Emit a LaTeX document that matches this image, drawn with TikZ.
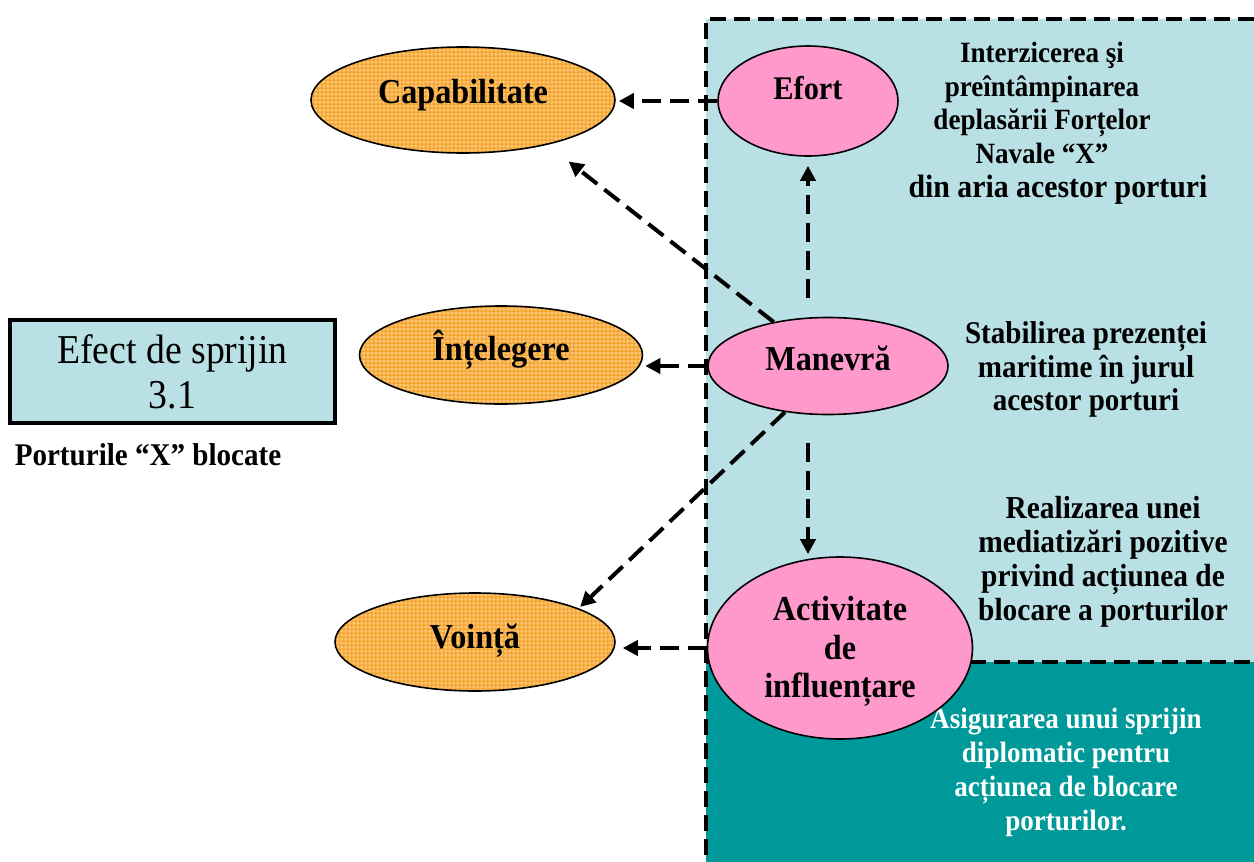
\documentclass[tikz,border=0pt]{standalone}
\usepackage{fontspec}
\setmainfont{Liberation Serif}[FakeStretch=0.92]
\usetikzlibrary{arrows.meta,patterns.meta,shapes.geometric,calc}
\definecolor{lb}{RGB}{185,224,228}
\definecolor{tealc}{RGB}{0,153,153}
\definecolor{pinkc}{RGB}{255,153,204}
\definecolor{orbg}{RGB}{252,198,115}
\definecolor{orgrid}{RGB}{242,158,35}
\tikzdeclarepattern{
  name=finegrid,
  type=uncolored,
  bounding box={(0pt,0pt) and (2.2pt,2.2pt)},
  tile size={(2.2pt,2.2pt)},
  code={
    \pgfsetlinewidth{0.6pt}
    \pgfpathmoveto{\pgfpoint{0pt}{1.1pt}}\pgfpathlineto{\pgfpoint{2.2pt}{1.1pt}}
    \pgfpathmoveto{\pgfpoint{1.1pt}{0pt}}\pgfpathlineto{\pgfpoint{1.1pt}{2.2pt}}
    \pgfusepath{stroke}
  }
}
\tikzset{
  oval/.style={ellipse, draw, line width=0.8pt, inner sep=0pt,
    font=\bfseries\fontsize{17.5}{19.25}\selectfont},
  orangeoval/.style={oval, preaction={fill=orbg}, pattern=finegrid, pattern color=orgrid},
  pinkoval/.style={oval, fill=pinkc},
  arr/.style={line width=2pt, dash pattern=on 9.5pt off 4.5pt,
    -{Triangle[length=7.5pt,width=7.5pt]}},
  border/.style={line width=1.7pt, dash pattern=on 8pt off 4pt},
  rtext/.style={align=center, inner sep=0pt, anchor=north}
}
\begin{document}
\begin{tikzpicture}[x=0.5pt,y=-0.5pt]
\useasboundingbox (0,0) rectangle (1254,862);
% background regions
\fill[lb] (706,19) rectangle (1254,862);
\fill[tealc] (706,662) rectangle (1254,862);
\draw[border] (1254,19) -- (706,19) -- (706,862);
\draw[border] (706,662) -- (1254,662);

% left box
\node[draw, line width=2pt, fill=lb, minimum width=162.5pt, minimum height=51.5pt,
  inner sep=0pt, align=center, font=\fontsize{20.5}{22.5}\selectfont]
  (efect) at (172.5,371.5) {Efect de sprijin\\3.1};
\node[anchor=base, inner sep=0pt, font=\bfseries\fontsize{15.8}{18}\selectfont]
  (port) at (148,465) {Porturile “X” blocate};

% right texts
\node[rtext, font=\bfseries\fontsize{14.7}{16.75}\selectfont] (t1) at (1042,42)
  {Interzicerea şi\\preîntâmpinarea\\deplasării Forțelor\\Navale “X”};
\node[anchor=base, inner sep=0pt, font=\bfseries\fontsize{16.2}{18}\selectfont]
  (t1b) at (1058,197) {din aria acestor porturi};
\node[rtext, font=\bfseries\fontsize{15.8}{16.75}\selectfont] (t2) at (1086,321.5)
  {Stabilirea prezenței\\maritime în jurul\\acestor porturi};
\node[rtext, font=\bfseries\fontsize{16}{17}\selectfont] (t3) at (1103,496)
  {Realizarea unei\\mediatizări pozitive\\privind acțiunea de\\blocare a porturilor};
\node[rtext, text=white, font=\bfseries\fontsize{14.7}{17}\selectfont] (t4) at (1066,708)
  {Asigurarea unui sprijin\\diplomatic pentru\\acțiunea de blocare\\porturilor.};

% ellipses
\node[orangeoval, minimum width=152pt, minimum height=53pt, text height=8pt, text depth=5pt]
  (cap) at (463,100) {Capabilitate};
\node[orangeoval, minimum width=141.5pt, minimum height=49pt, text height=8.5pt, text depth=3.5pt]
  (int) at (501,355) {Înțelegere};
\node[orangeoval, minimum width=140pt, minimum height=49pt, text height=9pt, text depth=3pt]
  (voi) at (475,642) {Voință};
\node[pinkoval, minimum width=90pt, minimum height=55pt, text height=5pt, text depth=6.5pt,
  font=\bfseries\fontsize{16.5}{18}\selectfont]
  (efort) at (808,101) {Efort};
\node[pinkoval, minimum width=120pt, minimum height=48.5pt, text height=8pt, text depth=4pt]
  (man) at (828,366) {Manevră};
\node[pinkoval, align=center, minimum width=132.5pt, minimum height=91pt]
  (act) at (840,648) {\rule{0pt}{15.5pt}Activitate\\de\\influențare};

% connectors
\draw[arr, shorten >=1.5pt] (efort.west) -- (efort.west -| cap.east);
\draw[arr, shorten >=13.5pt] (man.141.6) -- (cap.-28);
\draw[arr, shorten <=9.5pt, shorten >=4.5pt] (man.north -| efort.south) -- (efort.south);
\draw[arr, shorten >=1pt] (man.west) -- (man.west -| int.east);
\draw[arr, shorten >=1pt] (man.227.4) -- (voi.18);
\draw[arr, shorten <=14pt, shorten >=1pt] ([xshift=-10pt]man.south) -- ([xshift=-10pt]man.south |- act.north);
\draw[arr, shorten >=3.5pt] (act.west) -- (act.west -| voi.east);
\end{tikzpicture}
\end{document}
